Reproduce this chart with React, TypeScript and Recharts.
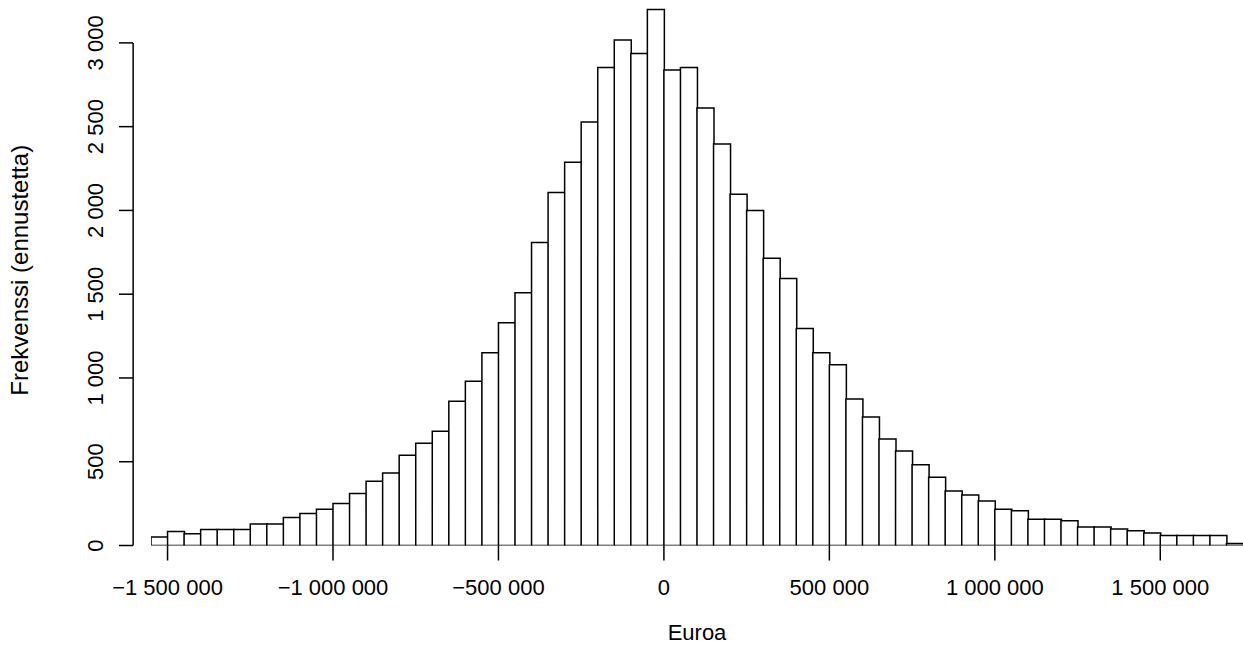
import { BarChart, Bar, XAxis, YAxis, ReferenceLine, Label } from 'recharts';

const FONT = "'Liberation Sans', Arial, Helvetica, sans-serif";

// histogram breaks: 50 000 € bins starting at −1 550 000
const BIN_START = -1550000;
const BIN_WIDTH = 50000;

// simulated frequencies per bin
const counts = [
  50, 84, 70, 96, 96, 96, 129, 129, 167, 191,
  217, 251, 311, 384, 432, 538, 610, 682, 861, 981,
  1150, 1329, 1509, 1808, 2107, 2287, 2528, 2853, 3017, 2936,
  3199, 2838, 2853, 2611, 2396, 2096, 2000, 1714, 1594, 1295,
  1150, 1079, 874, 767, 635, 564, 482, 408, 325, 301,
  265, 217, 207, 157, 157, 147, 110, 110, 98, 88,
  74, 60, 60, 60, 60, 12,
];

const xTicks = [-1500000, -1000000, -500000, 0, 500000, 1000000, 1500000];
const xTickLabels = ['\u22121 500 000', '\u22121 000 000', '\u2212500 000', '0', '500 000', '1 000 000', '1 500 000'];
const yTicks = [0, 500, 1000, 1500, 2000, 2500, 3000];
const yTickLabels = ['0', '500', '1 000', '1 500', '2 000', '2 500', '3 000'];

// x position (in euros) where the count axis is drawn, left of the first bin
const Y_AXIS_AT = -1604000;

const data = counts.map((n, i) => ({ mid: BIN_START + (i + 0.5) * BIN_WIDTH, n }));

function XTick({ x, y, payload }: any) {
  const i = xTicks.indexOf(payload.value);
  return (
    <text x={x} y={y + 34} textAnchor="middle" fontSize={22} fontFamily={FONT} fill="#000">
      {xTickLabels[i]}
    </text>
  );
}

function YTick({ x, y, payload }: any) {
  const i = yTicks.indexOf(payload.value);
  const tx = x - 48;
  return (
    <g>
      <line x1={x - 32} x2={x - 18} y1={y} y2={y} stroke="#000" strokeWidth={1.5} />
      <text x={tx} y={y} transform={`rotate(-90 ${tx} ${y})`} textAnchor="middle"
        fontSize={22} fontFamily={FONT} fill="#000">
        {yTickLabels[i]}
      </text>
    </g>
  );
}

function XTitle({ viewBox }: any) {
  return (
    <text x={viewBox.x + viewBox.width / 2} y={viewBox.y + 94} textAnchor="middle"
      fontSize={22} fontFamily={FONT} fill="#000">
      Euroa
    </text>
  );
}

function YTitle({ viewBox }: any) {
  const x = viewBox.x + 28;
  const y = viewBox.y + viewBox.height / 2 - 3;
  return (
    <text x={x} y={y} transform={`rotate(-90 ${x} ${y})`} textAnchor="middle"
      fontSize={24} fontFamily={FONT} fill="#000">
      Frekvenssi (ennustetta)
    </text>
  );
}

export default function App() {
  return (
    <div style={{ position: 'absolute', left: 0, top: 0, width: 1243, height: 649, overflow: 'hidden', background: '#fff' }}>
      <BarChart width={1243} height={649} data={data} barCategoryGap={0} barGap={0}
        margin={{ top: 1, right: 0, bottom: 0, left: 0 }}>
        <XAxis dataKey="mid" type="number" domain={[-1550000, 1750000]} allowDataOverflow
          ticks={xTicks} interval={0} height={103.5} axisLine={false}
          tickSize={15} tickMargin={0} tickLine={{ stroke: '#000', strokeWidth: 1.5 }} tick={<XTick />}>
          <Label content={<XTitle />} />
        </XAxis>
        <YAxis type="number" domain={[0, 3250]} allowDataOverflow ticks={yTicks} interval={0}
          width={151} axisLine={false} tickLine={false} tickSize={0} tickMargin={0} tick={<YTick />}>
          <Label content={<YTitle />} />
        </YAxis>
        <ReferenceLine segment={[{ x: Y_AXIS_AT, y: 0 }, { x: Y_AXIS_AT, y: 3000 }]}
          stroke="#000" strokeWidth={1.5} ifOverflow="visible" />
        <Bar dataKey="n" fill="#fff" stroke="#000" strokeWidth={1.5} isAnimationActive={false} />
      </BarChart>
    </div>
  );
}
